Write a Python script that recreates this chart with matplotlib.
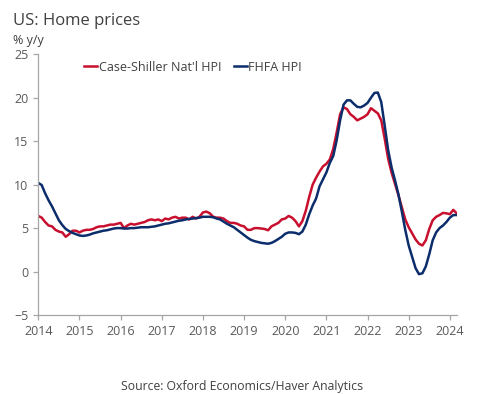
import numpy as np
import matplotlib
matplotlib.use("Agg")
import matplotlib.pyplot as plt

plt.rcParams['font.family'] = ['Open Sans', 'DejaVu Sans']

# monthly % y/y, Jan 2014 .. Mar 2024
case_shiller = [
    6.4, 6.2, 5.7, 5.3, 5.2, 4.8, 4.6, 4.5, 4.0, 4.3, 4.7, 4.7,        # 2014
    4.5, 4.7, 4.8, 4.8, 4.9, 5.1, 5.2, 5.2, 5.3, 5.4, 5.4, 5.5,        # 2015
    5.6, 5.0, 5.3, 5.5, 5.4, 5.5, 5.6, 5.7, 5.9, 6.0, 5.9, 6.0,        # 2016
    5.8, 6.1, 6.0, 6.2, 6.3, 6.1, 6.2, 6.2, 6.0, 6.3, 6.1, 6.3,        # 2017
    6.8, 6.9, 6.7, 6.3, 6.2, 6.2, 6.1, 5.8, 5.6, 5.6, 5.5, 5.3,        # 2018
    5.2, 4.8, 4.8, 5.0, 5.0, 4.95, 4.9, 4.75, 5.2, 5.4, 5.6, 6.0,      # 2019
    6.1, 6.4, 6.2, 5.8, 5.2, 5.8, 7.0, 8.6, 10.0, 10.8, 11.5, 12.1,    # 2020
    12.4, 12.9, 14.1, 16.0, 18.1, 18.9, 18.7, 18.1, 17.8, 17.4, 17.6, 17.8,  # 2021
    18.1, 18.8, 18.5, 18.2, 17.4, 15.3, 13.0, 11.4, 10.1, 8.8, 7.4, 6.0,     # 2022
    5.1, 4.4, 3.7, 3.2, 3.0, 3.6, 4.9, 5.9, 6.3, 6.5, 6.75, 6.7,      # 2023
    6.6, 7.1, 6.7,                                                    # 2024
]
fhfa = [
    10.2, 9.95, 9.0, 8.2, 7.5, 6.7, 5.9, 5.35, 4.9, 4.65, 4.45, 4.3,
    4.15, 4.1, 4.15, 4.25, 4.4, 4.5, 4.6, 4.7, 4.75, 4.85, 4.95, 5.0,
    5.0, 4.95, 4.95, 5.0, 5.0, 5.05, 5.1, 5.1, 5.1, 5.15, 5.2, 5.3,
    5.4, 5.5, 5.55, 5.65, 5.75, 5.85, 5.9, 6.0, 6.05, 6.1, 6.15, 6.2,
    6.3, 6.3, 6.3, 6.25, 6.1, 6.0, 5.75, 5.5, 5.3, 5.1, 4.8, 4.5,
    4.2, 3.9, 3.65, 3.5, 3.4, 3.3, 3.25, 3.2, 3.3, 3.5, 3.75, 4.0,
    4.35, 4.5, 4.5, 4.45, 4.3, 4.6, 5.4, 6.6, 7.6, 8.4, 9.8, 10.6,
    11.4, 12.5, 13.3, 15.1, 17.4, 19.2, 19.7, 19.7, 19.3, 18.95, 18.9, 19.1,
    19.4, 20.0, 20.55, 20.6, 19.5, 16.8, 14.0, 12.0, 10.5, 8.9, 6.9, 4.8,
    3.0, 1.7, 0.4, -0.3, -0.2, 0.6, 2.0, 3.6, 4.5, 5.0, 5.3, 5.7,
    6.2, 6.5, 6.5,
]
years = list(range(2014, 2025))
labels = ["Case-Shiller Nat'l HPI", "FHFA HPI"]

x = 2014 + np.arange(len(case_shiller)) / 12

fig = plt.figure(figsize=(4.84, 3.94), dpi=100)
ax = fig.add_axes([0.0791, 0.2005, 0.8645, 0.6617])

ax.plot(x, case_shiller, color='#C8102E', lw=1.8, label=labels[0])
ax.plot(x, fhfa, color='#0B2D6B', lw=1.8, label=labels[1])

ax.set_xlim(2014, 2014 + 122 / 12)
ax.set_ylim(-5, 25)
ax.set_xticks(years)
ax.set_yticks(range(-5, 26, 5))

for s in ['top', 'right']:
    ax.spines[s].set_visible(False)
for s in ['left', 'bottom']:
    ax.spines[s].set_color('#A6A6A6')
    ax.spines[s].set_linewidth(0.9)
ax.tick_params(colors='#A6A6A6', labelcolor='#595959', labelsize=9,
               length=3.5, width=0.9, pad=3.5)

fig.text(0.027, 0.937, "US: Home prices", fontsize=12, color='#404040',
         ha='left', va='baseline')
fig.text(0.027, 0.896, "% y/y", fontsize=9, color='#404040',
         ha='left', va='center')
fig.text(0.5, 0.02, "Source: Oxford Economics/Haver Analytics", fontsize=8.8,
         color='#404040', ha='center', va='center')

ax.legend(loc='center left', bbox_to_anchor=(0.174, 0.829),
          bbox_transform=fig.transFigure, ncol=2, frameon=False,
          fontsize=9, handlelength=1.05, handletextpad=0.1,
          columnspacing=1.0, borderpad=0, borderaxespad=0,
          labelcolor='#404040')

fig.savefig('out.png', dpi=100)
